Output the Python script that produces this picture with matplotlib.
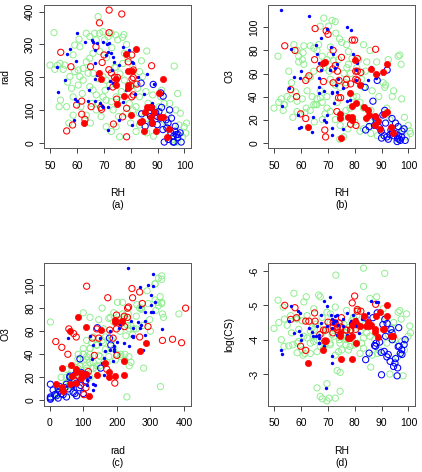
import matplotlib
matplotlib.use("Agg")
import matplotlib.pyplot as plt

plt.rcParams['font.family'] = ['Liberation Sans', 'DejaVu Sans']
plt.rcParams['axes.unicode_minus'] = False

# --- green open circles ---
green_rh = [51.5, 50.0, 51.8, 52.7, 53.7, 55.5, 54.9, 53.9, 53.4, 56.2, 58.6, 58.0, 57.4, 59.2, 58.6, 59.2,
            58.6, 56.5, 57.0, 60.5, 61.1, 62.3, 60.5, 61.1, 60.8, 63.5, 64.8, 66.6, 67.9, 68.5, 67.2, 69.7,
            66.0, 68.5, 64.8, 63.5, 62.3, 64.2, 66.0, 67.9, 69.7, 64.8, 66.0, 67.2, 69.7, 67.2, 63.5, 65.5,
            62.0, 68.0, 69.0, 61.5, 65.0, 70.3, 71.6, 72.8, 74.4, 75.2, 77.0, 70.9, 72.2, 70.9, 72.8, 74.6,
            76.5, 77.7, 77.1, 77.7, 79.0, 70.9, 72.8, 74.6, 75.9, 73.0, 71.0, 74.0, 76.0, 78.3, 79.5, 73.5,
            75.5, 78.5, 70.5, 76.8, 80.8, 83.3, 84.5, 82.6, 83.3, 85.7, 88.2, 82.0, 80.8, 83.3, 85.7, 83.3,
            82.0, 86.5, 87.5, 89.0, 81.5, 84.0, 86.0, 88.5, 80.0, 90.6, 92.5, 91.2, 96.2, 96.8, 93.1, 95.0,
            98.0, 99.9, 100.5, 99.3, 97.5, 94.0, 92.0, 98.5, 100.8, 91.5, 96.0, 94.5, 97.3, 74.5, 77.5, 86.0]
green_rad = [336, 237, 224, 236, 242, 237, 224, 130, 110, 110, 140, 166, 202, 217, 268, 298,
             84, 185, 60, 222, 202, 191, 176, 293, 316, 334, 324, 334, 385, 334, 314, 339,
             273, 278, 258, 247, 227, 212, 212, 196, 202, 171, 161, 146, 140, 100, 84, 120,
             150, 120, 80, 110, 60, 314, 324, 334, 329, 314, 322, 191, 176, 130, 125, 140,
             156, 191, 242, 273, 258, 49, 34, 49, 18, 290, 260, 230, 210, 90, 120, 100,
             80, 300, 160, 130, 232, 217, 202, 166, 140, 156, 146, 110, 100, 90, 74, 54,
             34, 120, 60, 100, 180, 250, 30, 20, 60, 110, 120, 140, 234, 100, 49, 29,
             54, 49, 29, 18, 150, 85, 70, 90, 60, 160, 10, 120, 2, 230, 330, 280]
green_o3 = [75, 30, 35, 38, 33, 62, 40, 33, 28, 38, 27, 44, 85, 75, 80, 70,
            36, 52, 22, 72, 68, 45, 38, 84, 78, 84, 82, 85, 75, 108, 101, 72,
            80, 65, 62, 57, 56, 40, 38, 35, 40, 33, 33, 39, 30, 45, 28, 33,
            30, 20, 25, 26, 18, 101, 106, 105, 90, 87, 85, 76, 71, 55, 50, 48,
            52, 68, 65, 79, 73, 27, 20, 15, 5, 95, 83, 72, 60, 30, 40, 35,
            22, 60, 62, 28, 65, 85, 70, 55, 48, 80, 70, 35, 40, 30, 18, 12,
            10, 45, 15, 40, 72, 62, 8, 6, 18, 52, 72, 48, 75, 76, 20, 10,
            12, 15, 10, 5, 38, 40, 30, 22, 8, 50, 3, 45, 68, 3, 12, 28]
green_lcs = [-5.15, -4.33, -4.5, -4.0, -3.8, -3.82, -4.42, -4.6, -4.95, -4.7, -3.9, -4.62, -5.35, -4.3, -4.6, -3.95,
             -3.62, -4.2, -3.85, -4.55, -5.1, -4.05, -3.7, -4.1, -3.55, -4.25, -4.9, -5.3, -4.65, -4.4, -5.25, -4.8,
             -4.0, -3.75, -4.1, -3.9, -4.7, -4.35, -3.65, -4.2, -2.72, -3.95, -2.6, -2.35, -2.22, -3.8, -3.6, -4.45,
             -5.25, -2.28, -3.85, -3.6, -4.3, -4.3, -4.15, -4.95, -4.0, -3.7, -4.85, -4.5, -4.1, -3.85, -2.3, -3.05,
             -4.2, -4.35, -4.0, -3.7, -4.55, -3.9, -3.55, -2.5, -4.1, -5.88, -4.75, -3.65, -4.45, -3.8, -4.65, -3.1,
             -4.35, -4.3, -2.3, -3.85, -4.7, -5.55, -4.2, -3.9, -4.05, -5.2, -5.25, -3.6, -3.9, -6.08, -4.1, -3.75,
             -4.25, -3.55, -4.0, -3.7, -4.85, -4.45, -3.2, -3.6, -3.85, -4.9, -4.15, -5.93, -4.8, -4.85, -3.0, -4.0,
             -2.95, -4.1, -4.4, -4.75, -3.95, -4.35, -3.9, -3.7, -4.2, -4.65, -3.5, -4.5, -4.6, -3.9, -4.05, -4.4]

# --- blue open circles ---
bo_rh = [92.1, 88.4, 83.9, 86.8, 91.2, 90.5, 93.9, 87.8, 87.4, 89.3, 85.4, 84.1, 98.4, 91.5, 89.9, 91.0, 92.0, 93.2,
         94.5, 95.0, 96.0, 96.6, 97.0, 97.5, 95.8, 92.5, 94.0, 98.8, 96.4, 93.5, 90.0, 88.0, 95.2, 97.6, 96.2]
bo_rad = [142, 178, 182, 90, 152, 95, 60, 108, 80, 92, 50, 88, 30, 108, 55, 75, 40, 70,
          100, 30, 20, 50, 25, 15, 2, 2, 10, 2, 35, 45, 80, 60, 75, 25, 2]
bo_o3 = [63, 54, 48, 36, 28, 24, 21, 22, 15, 13, 14, 11, 12, 17, 10, 6, 5, 7,
         6, 8, 4, 3, 2, 5, 1, 3, 9, 2, 6, 11, 4, 20, 17, 10, 14]
bo_lcs = [-4.47, -4.78, -4.64, -4.64, -4.59, -4.44, -4.2, -3.81, -3.83, -3.93, -3.61, -3.42, -3.86, -4.1, -3.63,
          -3.66, -3.5, -3.37, -3.22, -3.32, -3.18, -3.81, -3.6, -3.71, -2.95, -3.57, -4.0, -4.0, -4.35, -4.3,
          -2.98, -3.9, -3.45, -3.57, -3.8]

# --- blue small dots ---
bd_rh = [52.7, 53.1, 56.2, 55.7, 57.4, 58.9, 59.3, 59.7, 60.2, 60.2, 63.0, 64.3, 64.6, 65.5, 66.1, 66.7, 66.7, 66.7,
         66.7, 67.4, 67.6, 68.6, 68.6, 69.2, 69.9, 69.9, 70.8, 71.1, 71.7, 71.7, 71.7, 71.7, 72.1, 72.3, 72.7, 73.0,
         73.6, 73.6, 73.9, 75.6, 75.6, 77.3, 77.3, 78.3, 78.5, 79.5, 80.5, 80.6, 81.0, 81.6, 82.6, 85.0, 86.2, 88.0,
         88.7]
bd_rad = [232, 156, 270, 191, 285, 69, 134, 249, 336, 128, 308, 128, 161, 313, 308, 283, 244, 193,
          128, 207, 303, 191, 120, 112, 108, 308, 268, 301, 278, 166, 110, 39, 303, 188, 273, 222,
          263, 181, 247, 237, 69, 293, 125, 161, 270, 283, 54, 247, 242, 149, 200, 150, 210, 120,
          180]
bd_o3 = [115, 32, 81, 47, 57, 24, 13, 56, 62, 14, 110, 9, 22, 85, 77, 69, 56, 43,
         48, 63, 91, 45, 20, 18, 24, 99, 63, 83, 44, 43, 13, 7, 77, 34, 65, 50,
         68, 44, 55, 47, 12, 100, 36, 37, 98, 77, 54, 63, 69, 49, 51, 54, 66, 56,
         60]
bd_lcs = [-3.71, -3.57, -4.98, -4.54, -4.2, -4.83, -4.25, -4.78, -4.15, -4.0, -4.34, -4.22, -4.1, -4.1, -4.39,
          -4.15, -3.91, -3.91, -4.05, -4.73, -4.49, -5.12, -3.81, -2.59, -4.39, -4.98, -5.25, -4.73, -4.59,
          -4.34, -3.52, -3.32, -4.49, -4.54, -4.69, -4.54, -4.73, -4.15, -4.44, -4.59, -4.39, -4.78, -4.15,
          -4.49, -4.54, -4.73, -4.44, -4.59, -4.39, -4.2, -4.59, -4.78, -5.12, -5.09, -5.09]

# --- red open circles ---
ro_rh = [72.0, 76.7, 68.4, 72.0, 67.1, 54.0, 57.8, 65.1, 69.4, 70.1, 80.4, 79.1, 87.8, 74.2, 75.1, 81.0, 82.3, 81.0,
         80.4, 74.8, 78.5, 77.0, 68.9, 69.2, 65.3, 59.9, 61.8, 61.8, 63.0, 58.4, 56.2, 73.6, 78.5, 80.0, 81.0, 74.0,
         80.5, 73.4, 72.8, 71.9]
ro_rad = [405, 393, 366, 336, 293, 276, 232, 232, 245, 268, 268, 247, 235, 189, 199, 199, 179, 146,
          140, 133, 105, 79, 108, 102, 110, 115, 127, 87, 71, 54, 36, 57, 18, 173, 222, 200,
          194, 170, 213, 223]
ro_o3 = [80, 50, 53, 52, 64, 84, 80, 72, 97, 94, 55, 89, 81, 54, 74, 62, 61, 54,
         62, 39, 16, 55, 11, 5, 99, 25, 54, 21, 58, 40, 46, 62, 51, 89, 73, 39,
         15, 27, 67, 64]
ro_lcs = [-4.51, -4.28, -4.28, -4.37, -4.15, -5.0, -4.93, -4.78, -3.96, -4.51, -4.44, -5.07, -5.03, -4.49, -4.64,
          -4.88, -4.83, -4.44, -4.3, -4.37, -4.28, -4.28, -3.96, -4.28, -4.54, -3.81, -4.54, -3.69, -4.54, -4.64,
          -4.59, -4.37, -4.28, -5.27, -4.83, -4.2, -4.44, -4.3, -4.49, -4.2]

# --- red filled circles ---
rf_rh = [62.7, 68.4, 69.1, 74.8, 74.6, 74.6, 77.5, 78.4, 79.1, 80.4, 79.1, 78.9, 80.1, 82.0, 83.5, 85.0, 85.5, 87.6,
         88.7, 87.6, 89.6, 90.4, 92.1, 90.8, 92.2, 93.5, 94.3, 87.8, 86.2, 84.4]
rf_rad = [59, 214, 194, 117, 196, 176, 142, 270, 220, 220, 176, 166, 85, 286, 62, 36, 93, 108,
          93, 77, 37, 153, 195, 79, 79, 18, 41, 61, 108, 65]
rf_o3 = [14, 69, 70, 4, 21, 25, 22, 43, 22, 34, 20, 32, 72, 50, 31, 28, 24, 23,
         19, 15, 12, 61, 68, 25, 27, 14, 8, 60, 64, 21]
rf_lcs = [-3.32, -3.69, -3.95, -3.44, -4.1, -4.2, -4.05, -4.05, -3.44, -3.91, -4.12, -4.44, -4.54, -4.39, -4.69,
          -4.51, -4.39, -4.3, -4.08, -4.23, -4.8, -4.3, -5.0, -4.3, -4.69, -4.12, -4.12, -4.7, -4.44, -4.41]

groups = [
    (dict(RH=green_rh, rad=green_rad, O3=green_o3, lcs=green_lcs),
     dict(facecolors='none', edgecolors='#90EE90', s=20, linewidths=0.7)),
    (dict(RH=bo_rh, rad=bo_rad, O3=bo_o3, lcs=bo_lcs),
     dict(facecolors='none', edgecolors='#0000FF', s=20, linewidths=0.75)),
    (dict(RH=ro_rh, rad=ro_rad, O3=ro_o3, lcs=ro_lcs),
     dict(facecolors='none', edgecolors='#FF0000', s=20, linewidths=0.75)),
    (dict(RH=bd_rh, rad=bd_rad, O3=bd_o3, lcs=bd_lcs),
     dict(c='#0000FF', s=6, linewidths=0)),
    (dict(RH=rf_rh, rad=rf_rad, O3=rf_o3, lcs=rf_lcs),
     dict(c='#FF0000', s=20, linewidths=0.5, edgecolors='#FF0000')),
]

W, H = 422, 472
fig = plt.figure(figsize=(W / 100, H / 100), dpi=100)

PX = 0.72  # points per pixel
FS = 7.5


def panel(left, top, xkey, ykey, xlim, ylim, xticks, yticks, xlab, ylab, tag):
    ax = fig.add_axes([left / W, 1 - (top + 143) / H, 146.5 / W, 143 / H])
    for data, style in groups:
        ax.scatter(data[xkey], data[ykey], **style)
    ax.set_xlim(xlim)
    ax.set_ylim(ylim)
    ax.set_xticks(xticks)
    ax.set_yticks(yticks)
    ax.tick_params(direction='out', length=3.6, width=0.6, labelsize=FS, color='#222222')
    ax.tick_params(axis='x', pad=5.5)
    ax.tick_params(axis='y', pad=3.0, labelrotation=90)
    for lab in ax.get_yticklabels():
        lab.set_va('center')
    for sp in ax.spines.values():
        sp.set_linewidth(0.7)
        sp.set_color('#555555')
    ax.annotate(xlab, (0.5, 0), xycoords='axes fraction', xytext=(0, -45 * PX),
                textcoords='offset points', ha='center', va='center', fontsize=FS)
    ax.annotate(tag, (0.5, 0), xycoords='axes fraction', xytext=(0, -57.5 * PX),
                textcoords='offset points', ha='center', va='center', fontsize=FS)
    ax.annotate(ylab, (0, 0.5), xycoords='axes fraction', xytext=(-39 * PX, 0),
                textcoords='offset points', ha='center', va='center', rotation=90, fontsize=FS)
    return ax


rh_lim = (47.88, 102.38)
rad_lim = (-16.2, 420.5)
o3_lim = (-4.6, 119.4)
rh_ticks = [50, 60, 70, 80, 90, 100]

panel(44.3, 5, 'RH', 'rad', rh_lim, rad_lim, rh_ticks, [0, 100, 200, 300, 400], 'RH', 'rad', '(a)')
panel(268.3, 5, 'RH', 'O3', rh_lim, o3_lim, rh_ticks, [0, 20, 40, 60, 80, 100], 'RH', 'O3', '(b)')
panel(44.3, 262.7, 'rad', 'O3', rad_lim, o3_lim, [0, 100, 200, 300, 400], [0, 20, 40, 60, 80, 100],
      'rad', 'O3', '(c)')
panel(268.3, 262.7, 'RH', 'lcs', rh_lim, (-2.08, -6.24), rh_ticks, [-3, -4, -5, -6], 'RH', 'log(CS)', '(d)')

fig.savefig('out.png', dpi=100)
